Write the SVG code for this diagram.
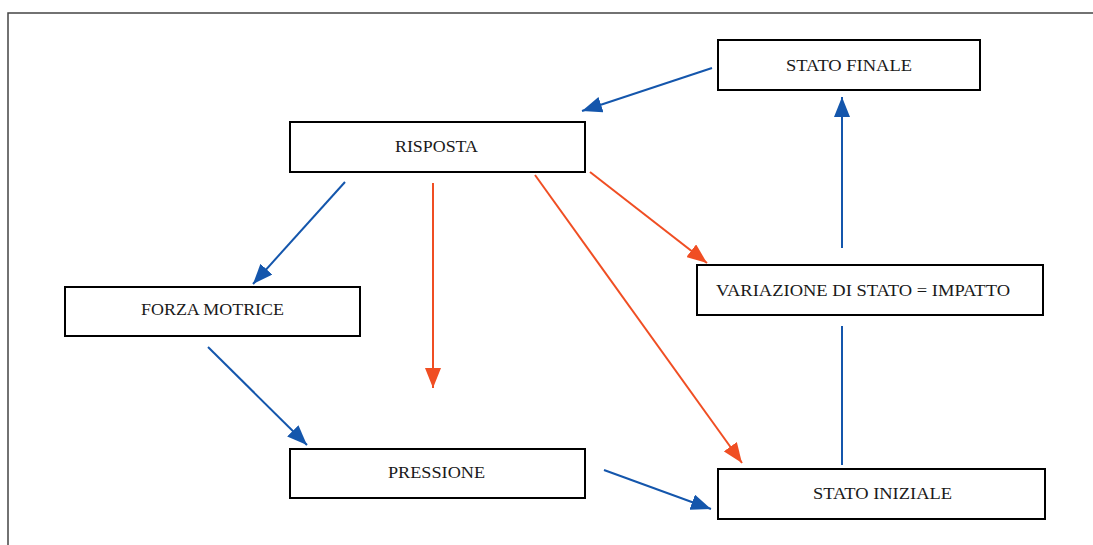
<svg xmlns="http://www.w3.org/2000/svg" width="1093" height="545" viewBox="0 0 1093 545">
  <style>
    .box { fill: #ffffff; stroke: #000000; stroke-width: 2; }
    .lbl { font-family: "Liberation Serif", "DejaVu Serif", serif; font-size: 17.5px; fill: #1a1a1a; text-anchor: middle; }
    .blue { stroke: #1456ac; stroke-width: 2; fill: none; }
    .red { stroke: #f04e23; stroke-width: 2; fill: none; }
  </style>
  <defs>
    <marker id="headBlue" viewBox="0 0 20 16" refX="20" refY="8" markerWidth="20" markerHeight="16" markerUnits="userSpaceOnUse" orient="auto">
      <path d="M0,0 L20,8 L0,16 z" fill="#1456ac"/>
    </marker>
    <marker id="headRed" viewBox="0 0 20 16" refX="20" refY="8" markerWidth="20" markerHeight="16" markerUnits="userSpaceOnUse" orient="auto">
      <path d="M0,0 L20,8 L0,16 z" fill="#f04e23"/>
    </marker>
  </defs>
  <rect width="1093" height="545" fill="#ffffff"/>
  <!-- page frame -->
  <path d="M8,545 L8,13 L1093,13" fill="none" stroke="#444444" stroke-width="1.5"/>

  <g id="connectors">
    <line class="blue" x1="712" y1="68" x2="582" y2="111" marker-end="url(#headBlue)"/>
    <line class="blue" x1="842" y1="248" x2="842" y2="97" marker-end="url(#headBlue)"/>
    <line class="blue" x1="345" y1="182" x2="253" y2="284" marker-end="url(#headBlue)"/>
    <line class="red" x1="433" y1="183" x2="433" y2="388" marker-end="url(#headRed)"/>
    <line class="red" x1="535" y1="175" x2="742" y2="463" marker-end="url(#headRed)"/>
    <line class="red" x1="590" y1="172" x2="707" y2="263" marker-end="url(#headRed)"/>
    <line class="blue" x1="208" y1="347" x2="307" y2="445" marker-end="url(#headBlue)"/>
    <line class="blue" x1="604" y1="470" x2="711" y2="509" marker-end="url(#headBlue)"/>
    <line class="blue" x1="842" y1="465" x2="842" y2="326"/>
  </g>

  <g id="stato-finale">
    <rect class="box" x="718" y="40" width="262" height="50"/>
    <text class="lbl" x="849" y="71" textLength="126" lengthAdjust="spacingAndGlyphs">STATO FINALE</text>
  </g>
  <g id="risposta">
    <rect class="box" x="290" y="122" width="295" height="50"/>
    <text class="lbl" x="436.5" y="152" textLength="83" lengthAdjust="spacingAndGlyphs">RISPOSTA</text>
  </g>
  <g id="forza-motrice">
    <rect class="box" x="65" y="287" width="295" height="49"/>
    <text class="lbl" x="212.5" y="314.5" textLength="143" lengthAdjust="spacingAndGlyphs">FORZA MOTRICE</text>
  </g>
  <g id="variazione">
    <rect class="box" x="697" y="265" width="346" height="50"/>
    <text class="lbl" x="863" y="296" textLength="294" lengthAdjust="spacingAndGlyphs">VARIAZIONE DI STATO = IMPATTO</text>
  </g>
  <g id="pressione">
    <rect class="box" x="290" y="449" width="295" height="49"/>
    <text class="lbl" x="436.5" y="478" textLength="97" lengthAdjust="spacingAndGlyphs">PRESSIONE</text>
  </g>
  <g id="stato-iniziale">
    <rect class="box" x="718" y="469" width="327" height="50"/>
    <text class="lbl" x="882.5" y="499" textLength="139" lengthAdjust="spacingAndGlyphs">STATO INIZIALE</text>
  </g>
</svg>
